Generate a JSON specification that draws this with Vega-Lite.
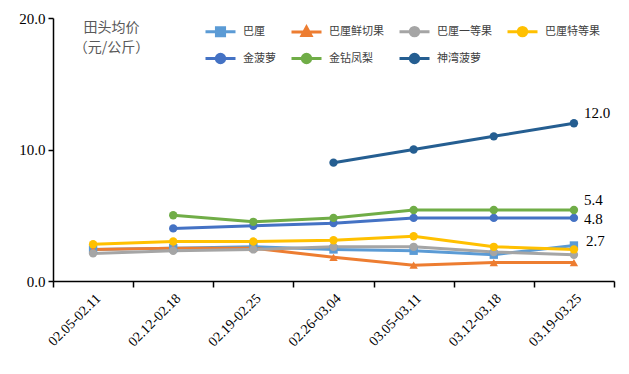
{
  "$schema": "https://vega.github.io/schema/vega-lite/v6.json",
  "width": 561,
  "height": 263,
  "autosize": {"type": "none"},
  "padding": {"left": 53, "top": 18, "right": 15, "bottom": 93},
  "background": "white",
  "config": {
    "view": {"stroke": null},
    "axis": {"grid": false, "domainColor": "#000", "tickColor": "#000", "labelColor": "#000", "labelFont": "Liberation Serif, Times New Roman, serif", "domainWidth": 1.5, "tickWidth": 1.5},
    "legend": {"labelFont": "Noto Sans CJK SC", "labelFontSize": 11, "labelColor": "#404040"}
  },
  "data": {"values": [
    {"week": "02.05-02.11", "series": "巴厘", "value": 2.4},
    {"week": "02.12-02.18", "series": "巴厘", "value": 2.5},
    {"week": "02.19-02.25", "series": "巴厘", "value": 2.6},
    {"week": "02.26-03.04", "series": "巴厘", "value": 2.4},
    {"week": "03.05-03.11", "series": "巴厘", "value": 2.3},
    {"week": "03.12-03.18", "series": "巴厘", "value": 2.0},
    {"week": "03.19-03.25", "series": "巴厘", "value": 2.7, "label": "2.7"},
    {"week": "02.05-02.11", "series": "巴厘鲜切果", "value": 2.4},
    {"week": "02.12-02.18", "series": "巴厘鲜切果", "value": 2.5},
    {"week": "02.19-02.25", "series": "巴厘鲜切果", "value": 2.5},
    {"week": "02.26-03.04", "series": "巴厘鲜切果", "value": 1.8},
    {"week": "03.05-03.11", "series": "巴厘鲜切果", "value": 1.2},
    {"week": "03.12-03.18", "series": "巴厘鲜切果", "value": 1.4},
    {"week": "03.19-03.25", "series": "巴厘鲜切果", "value": 1.4},
    {"week": "02.05-02.11", "series": "巴厘一等果", "value": 2.1},
    {"week": "02.12-02.18", "series": "巴厘一等果", "value": 2.3},
    {"week": "02.19-02.25", "series": "巴厘一等果", "value": 2.4},
    {"week": "02.26-03.04", "series": "巴厘一等果", "value": 2.6},
    {"week": "03.05-03.11", "series": "巴厘一等果", "value": 2.6},
    {"week": "03.12-03.18", "series": "巴厘一等果", "value": 2.2},
    {"week": "03.19-03.25", "series": "巴厘一等果", "value": 2.0},
    {"week": "02.05-02.11", "series": "巴厘特等果", "value": 2.8},
    {"week": "02.12-02.18", "series": "巴厘特等果", "value": 3.0},
    {"week": "02.19-02.25", "series": "巴厘特等果", "value": 3.0},
    {"week": "02.26-03.04", "series": "巴厘特等果", "value": 3.1},
    {"week": "03.05-03.11", "series": "巴厘特等果", "value": 3.4},
    {"week": "03.12-03.18", "series": "巴厘特等果", "value": 2.6},
    {"week": "03.19-03.25", "series": "巴厘特等果", "value": 2.4},
    {"week": "02.12-02.18", "series": "金菠萝", "value": 4.0},
    {"week": "02.19-02.25", "series": "金菠萝", "value": 4.2},
    {"week": "02.26-03.04", "series": "金菠萝", "value": 4.4},
    {"week": "03.05-03.11", "series": "金菠萝", "value": 4.8},
    {"week": "03.12-03.18", "series": "金菠萝", "value": 4.8},
    {"week": "03.19-03.25", "series": "金菠萝", "value": 4.8, "label": "4.8"},
    {"week": "02.12-02.18", "series": "金钻凤梨", "value": 5.0},
    {"week": "02.19-02.25", "series": "金钻凤梨", "value": 4.5},
    {"week": "02.26-03.04", "series": "金钻凤梨", "value": 4.8},
    {"week": "03.05-03.11", "series": "金钻凤梨", "value": 5.4},
    {"week": "03.12-03.18", "series": "金钻凤梨", "value": 5.4},
    {"week": "03.19-03.25", "series": "金钻凤梨", "value": 5.4, "label": "5.4"},
    {"week": "02.26-03.04", "series": "神湾菠萝", "value": 9.0},
    {"week": "03.05-03.11", "series": "神湾菠萝", "value": 10.0},
    {"week": "03.12-03.18", "series": "神湾菠萝", "value": 11.0},
    {"week": "03.19-03.25", "series": "神湾菠萝", "value": 12.0, "label": "12.0"}
  ]},
  "encoding": {
    "x": {"field": "week", "type": "nominal", "sort": null,
      "scale": {"type": "band", "paddingInner": 0, "paddingOuter": 0},
      "axis": {"title": null, "labelAngle": -45, "labelFont": "Liberation Serif, Times New Roman, serif", "labelFontSize": 14, "tickBand": "extent", "tickSize": 6, "labelPadding": 4}},
    "y": {"field": "value", "type": "quantitative",
      "scale": {"domain": [0, 20], "nice": false},
      "axis": {"values": [0, 10, 20], "format": ".1f", "tickSize": 5, "labelPadding": 3, "labelFont": "Liberation Serif, Times New Roman, serif", "labelFontSize": 15,
        "title": ["田头均价", "（元/公斤）"], "titleAngle": 0, "titleX": 58, "titleY": 2, "titleAlign": "center", "titleBaseline": "top",
        "titleFont": "Noto Sans CJK SC", "titleFontSize": 14, "titleFontWeight": "normal", "titleColor": "#595959", "titleLineHeight": 20}},
    "color": {"field": "series", "type": "nominal",
      "scale": {"domain": ["巴厘", "巴厘鲜切果", "巴厘一等果", "巴厘特等果", "金菠萝", "金钻凤梨", "神湾菠萝"],
        "range": ["#5B9BD5", "#ED7D31", "#A5A5A5", "#FFC000", "#4472C4", "#70AD47", "#255E91"]}}
  },
  "layer": [
    {"mark": {"type": "line", "strokeWidth": 3},
      "encoding": {
        "color": {"field": "series", "type": "nominal",
          "legend": {"title": null, "orient": "none", "legendX": 151, "legendY": -3, "columns": 4, "direction": "horizontal",
            "rowPadding": 0, "columnPadding": 9, "symbolSize": 900, "labelOffset": 6, "symbolStrokeWidth": 3,
            "symbolType": "M-1,0H1M-0.28,0A0.28,0.28 0 1,1 0.28,0A0.28,0.28 0 1,1 -0.28,0Z",
            "encode": {"symbols": {"update": {
              "shape": {"signal": "datum.value === '巴厘' ? 'M-1,0H1M-0.27,-0.27H0.27V0.27H-0.27Z' : (datum.value === '巴厘鲜切果' ? 'M-1,0H1M0,-0.33L0.3,0.22H-0.3Z' : 'M-1,0H1M-0.28,0A0.28,0.28 0 1,1 0.28,0A0.28,0.28 0 1,1 -0.28,0Z')"},
              "fill": {"scale": "color", "field": "value"},
              "fillOpacity": {"value": 1}
            }}}}}
      }},
    {"transform": [{"filter": "datum.series === '巴厘'"}],
      "mark": {"type": "point", "filled": true, "size": 70, "opacity": 1, "shape": "square"}},
    {"transform": [{"filter": "datum.series === '巴厘鲜切果'"}],
      "mark": {"type": "point", "filled": true, "size": 70, "opacity": 1, "shape": "triangle-up"}},
    {"transform": [{"filter": "datum.series !== '巴厘' && datum.series !== '巴厘鲜切果'"}],
      "mark": {"type": "point", "filled": true, "size": 70, "opacity": 1, "shape": "circle"}},
    {"transform": [{"filter": "datum.label === '12.0' || datum.label === '5.4'"}],
      "mark": {"type": "text", "align": "left", "dx": 10, "dy": -10, "font": "Liberation Serif, Times New Roman, serif", "fontSize": 15},
      "encoding": {"text": {"field": "label"}, "color": {"value": "#000"}}},
    {"transform": [{"filter": "datum.label === '4.8'"}],
      "mark": {"type": "text", "align": "left", "dx": 10, "dy": 1, "font": "Liberation Serif, Times New Roman, serif", "fontSize": 15},
      "encoding": {"text": {"field": "label"}, "color": {"value": "#000"}}},
    {"transform": [{"filter": "datum.label === '2.7'"}],
      "mark": {"type": "text", "align": "left", "dx": 12, "dy": -4, "font": "Liberation Serif, Times New Roman, serif", "fontSize": 15},
      "encoding": {"text": {"field": "label"}, "color": {"value": "#000"}}}
  ]
}
